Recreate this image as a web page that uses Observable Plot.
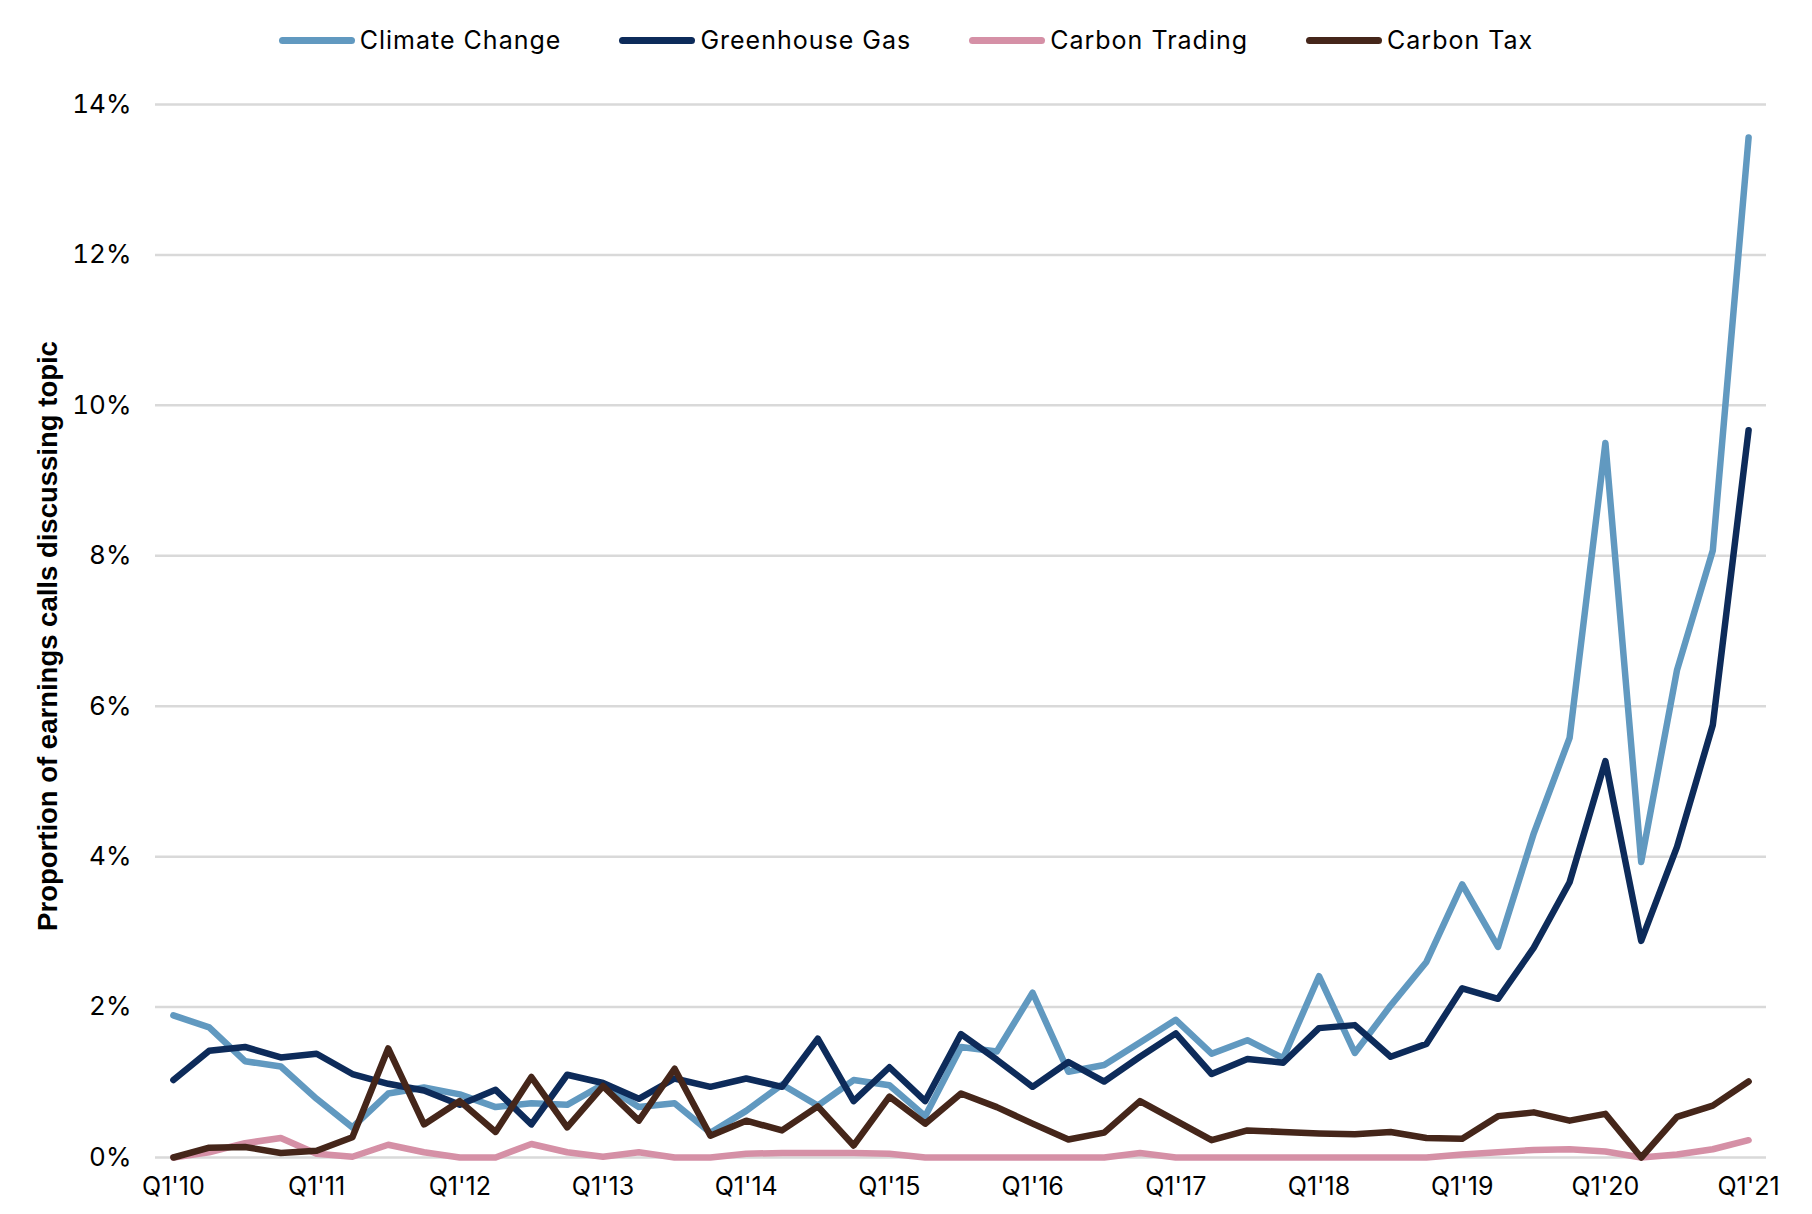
<!DOCTYPE html>
<html>
<head>
<meta charset="utf-8">
<script src="https://cdn.jsdelivr.net/npm/d3@7"></script>
<script src="https://cdn.jsdelivr.net/npm/@observablehq/plot@0.6"></script>
<style>
  body { margin: 0; background: #fff; font-family: Inter, "Liberation Sans", sans-serif; }
  #legend { height: 80px; display: flex; justify-content: center; align-items: center; gap: 58px; font-size: 25px; letter-spacing: 1px; color: #000; }
  .item { display: flex; align-items: center; }
  .sw { width: 76px; height: 7px; border-radius: 4px; margin-right: 5px; }
</style>
</head>
<body>
<div id="legend"></div>
<div id="chart"></div>
<script>
const quarters = [
  "Q1'10","Q2'10","Q3'10","Q4'10","Q1'11","Q2'11","Q3'11","Q4'11",
  "Q1'12","Q2'12","Q3'12","Q4'12","Q1'13","Q2'13","Q3'13","Q4'13",
  "Q1'14","Q2'14","Q3'14","Q4'14","Q1'15","Q2'15","Q3'15","Q4'15",
  "Q1'16","Q2'16","Q3'16","Q4'16","Q1'17","Q2'17","Q3'17","Q4'17",
  "Q1'18","Q2'18","Q3'18","Q4'18","Q1'19","Q2'19","Q3'19","Q4'19",
  "Q1'20","Q2'20","Q3'20","Q4'20","Q1'21"
];
const xTickLabels = ["Q1'10","Q1'11","Q1'12","Q1'13","Q1'14","Q1'15","Q1'16","Q1'17","Q1'18","Q1'19","Q1'20","Q1'21"];
const yTicks = [0, 2, 4, 6, 8, 10, 12, 14];
const seriesNames = ["Climate Change", "Greenhouse Gas", "Carbon Trading", "Carbon Tax"];
const seriesColors = ["#6199c0", "#0d2b5a", "#d590a6", "#45261a"];
const yTitle = "Proportion of earnings calls discussing topic";

const climateChange = [1.89,1.73,1.28,1.21,0.78,0.40,0.85,0.93,0.84,0.67,0.72,0.70,0.97,0.67,0.72,0.33,
  0.62,0.97,0.69,1.03,0.96,0.55,1.47,1.41,2.19,1.14,1.23,1.53,1.83,1.38,1.56,1.32,
  2.41,1.39,2.02,2.60,3.63,2.80,4.31,5.58,9.50,3.93,6.48,8.07,13.56];
const greenhouseGas = [1.03,1.42,1.47,1.33,1.38,1.11,0.98,0.89,0.70,0.90,0.44,1.10,0.99,0.78,1.05,0.94,
  1.05,0.94,1.58,0.75,1.20,0.75,1.64,1.30,0.94,1.27,1.01,1.34,1.65,1.11,1.31,1.26,
  1.72,1.76,1.34,1.51,2.25,2.11,2.79,3.66,5.27,2.88,4.13,5.75,9.67];
const carbonTrading = [0.00,0.07,0.19,0.26,0.05,0.01,0.17,0.07,0.00,0.00,0.18,0.07,0.01,0.07,0.00,0.00,
  0.05,0.06,0.06,0.06,0.05,0.00,0.00,0.00,0.00,0.00,0.00,0.06,0.00,0.00,0.00,0.00,
  0.00,0.00,0.00,0.00,0.04,0.07,0.10,0.11,0.08,0.00,0.04,0.11,0.23];
const carbonTax = [0.00,0.13,0.14,0.06,0.09,0.27,1.45,0.44,0.75,0.34,1.07,0.40,0.95,0.49,1.18,0.29,
  0.49,0.36,0.68,0.16,0.81,0.45,0.85,0.67,0.45,0.24,0.33,0.75,0.49,0.23,0.36,0.34,
  0.32,0.31,0.34,0.26,0.25,0.55,0.60,0.49,0.58,0.00,0.54,0.69,1.01];

const seriesValues = [climateChange, greenhouseGas, carbonTrading, carbonTax];
const data = seriesNames.flatMap((name, s) =>
  seriesValues[s].map((v, i) => ({ series: name, q: quarters[i], v })));

// Legend
const legend = document.getElementById("legend");
seriesNames.forEach((name, i) => {
  const it = document.createElement("div");
  it.className = "item";
  const sw = document.createElement("span");
  sw.className = "sw";
  sw.style.background = seriesColors[i];
  const tx = document.createElement("span");
  tx.textContent = name;
  it.appendChild(sw); it.appendChild(tx);
  legend.appendChild(it);
});

const chart = Plot.plot({
  width: 1812,
  height: 1134,
  marginLeft: 155,
  marginRight: 46,
  marginTop: 24,
  marginBottom: 57,
  style: { fontFamily: "Inter, 'Liberation Sans', sans-serif", fontSize: "25px", color: "#000", background: "#fff" },
  x: { type: "point", domain: quarters, padding: 0.5 },
  y: { domain: [0, 14] },
  color: { domain: seriesNames, range: seriesColors },
  marks: [
    Plot.ruleY(yTicks, { stroke: "#d9d9d9", strokeWidth: 2.5 }),
    Plot.axisY({ ticks: yTicks, tickSize: 0, tickPadding: 24, tickFormat: d => d + "%", label: null, fontSize: 26 }),
    Plot.axisX({ ticks: xTickLabels, tickSize: 0, tickPadding: 20, label: null, fontSize: 25 }),
    Plot.line(data, { x: "q", y: "v", z: "series", stroke: "series", strokeWidth: 6.5, strokeLinejoin: "round", strokeLinecap: "round" }),
    Plot.text([yTitle], { text: d => d, frameAnchor: "left", dx: -107, dy: 5, rotate: -90, textAnchor: "middle", fontWeight: "bold", fontSize: 27.5, fontFamily: "'Liberation Sans', Arial, sans-serif", fill: "#000" })
  ]
});
document.getElementById("chart").appendChild(chart);
</script>
</body>
</html>
